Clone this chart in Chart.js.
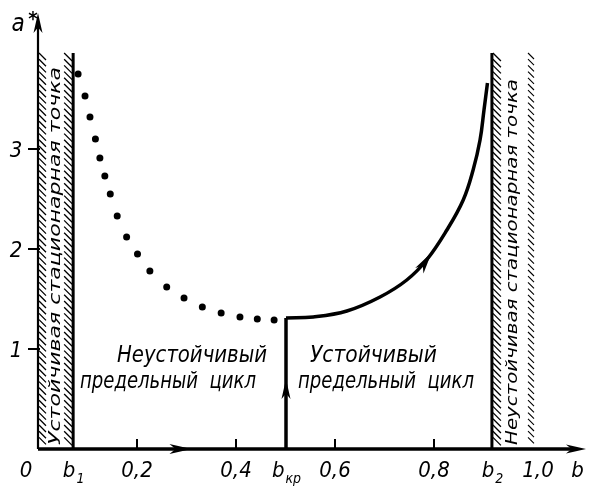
<!DOCTYPE html>
<html>
<head>
<meta charset="utf-8">
<script src="https://cdn.jsdelivr.net/npm/chart.js@4"></script>
<style>
  html, body { margin: 0; padding: 0; background: #fff; }
  canvas { display: block; }
</style>
</head>
<body>
<canvas id="grafico" width="590" height="490"></canvas>
<script>
// Começo dados

const b1 = 0.071;
const bKr = 0.501;
const b2 = 0.917;
const bDashed = 1.0;
const hatchTop = 3.96;

// pontos do ciclo instável (pontilhado)
const unstableB = [0.081, 0.095, 0.105, 0.116, 0.125, 0.135, 0.146, 0.160, 0.179, 0.201, 0.226, 0.260, 0.295, 0.332, 0.370, 0.408, 0.443, 0.477];
const unstableA = [3.75, 3.53, 3.32, 3.10, 2.91, 2.73, 2.55, 2.33, 2.12, 1.95, 1.78, 1.62, 1.51, 1.42, 1.36, 1.32, 1.30, 1.29];

// ciclo estável (linha cheia)
const riseB = [bKr, bKr];
const riseA = [0, 1.31];
const stableB = [0.501, 0.556, 0.624, 0.691, 0.745, 0.785, 0.826, 0.859, 0.879, 0.893, 0.901, 0.908];
const stableA = [1.31, 1.32, 1.38, 1.52, 1.69, 1.89, 2.19, 2.49, 2.79, 3.09, 3.39, 3.66];

// ticks
const xTickMarks = [0.2, 0.4, 0.6, 0.8];
const xLabelPos = [0, b1, 0.2, 0.4, bKr, 0.6, 0.8, b2, 1.0, 1.09];
const xLabelMain = ['0', 'b', '0,2', '0,4', 'b', '0,6', '0,8', 'b', '1,0', 'b'];
const xLabelSub = ['', '1', '', '', 'кр', '', '', '2', '', ''];
const yTickMarks = [1, 2, 3];
const yLabels = ['1', '2', '3'];

// Término dados

const fonte = "'Liberation Sans Narrow', 'DejaVu Sans Condensed', sans-serif";

function seta(ctx, x, y, ang, len, half) {
  ctx.save();
  ctx.translate(x, y);
  ctx.rotate(ang);
  ctx.beginPath();
  ctx.moveTo(0, 0);
  ctx.lineTo(-len, -half);
  ctx.lineTo(-len * 0.72, 0);
  ctx.lineTo(-len, half);
  ctx.closePath();
  ctx.fill();
  ctx.restore();
}

function hachura(ctx, x0, x1, yTop, yBot, lw) {
  ctx.save();
  ctx.lineWidth = lw;
  ctx.beginPath();
  for (let y = yTop; y < yBot - 8; y += 6.2) {
    ctx.moveTo(x0, y);
    ctx.lineTo(x1, y + (x1 - x0) * 1.0);
  }
  ctx.stroke();
  ctx.restore();
}

function textoLargo(ctx, txt, x, y, largura) {
  const w = ctx.measureText(txt).width;
  ctx.save();
  ctx.translate(x, y);
  ctx.scale(largura / w, 1);
  ctx.fillText(txt, 0, 0);
  ctx.restore();
}

const desenho = {
  id: 'desenho',
  beforeDatasetsDraw(chart) {
    const ctx = chart.ctx;
    const xs = chart.scales.x, ys = chart.scales.y;
    const x0 = xs.getPixelForValue(0);
    const y0 = ys.getPixelForValue(0);
    const yT = ys.getPixelForValue(hatchTop);
    ctx.save();
    ctx.strokeStyle = '#000';
    ctx.fillStyle = '#000';

    // zona esquerda
    const pb1 = xs.getPixelForValue(b1);
    hachura(ctx, x0 + 1, x0 + 8, yT, y0, 1.3);
    hachura(ctx, pb1 - 9, pb1 - 1, yT, y0, 1.3);
    ctx.lineWidth = 3;
    ctx.beginPath();
    ctx.moveTo(pb1, yT);
    ctx.lineTo(pb1, y0);
    ctx.stroke();

    // zona direita
    const pb2 = xs.getPixelForValue(b2);
    const pd = xs.getPixelForValue(bDashed);
    ctx.beginPath();
    ctx.moveTo(pb2, yT);
    ctx.lineTo(pb2, y0);
    ctx.stroke();
    hachura(ctx, pb2 + 1, pb2 + 9, yT, y0, 1.3);
    hachura(ctx, pd - 5, pd + 1, yT, y0, 1.1);

    // textos verticais
    ctx.font = 'italic 15px ' + fonte;
    ctx.textBaseline = 'middle';
    ctx.save();
    ctx.translate((x0 + pb1) / 2 + 1, y0 - 4);
    ctx.rotate(-Math.PI / 2);
    textoLargo(ctx, 'Устойчивая стационарная точка', 0, 0, 378);
    ctx.restore();
    ctx.save();
    ctx.translate(pb2 + 21, y0 - 4);
    ctx.rotate(-Math.PI / 2);
    textoLargo(ctx, 'Неустойчивая стационарная точка', 0, 0, 366);
    ctx.restore();

    // eixos
    const xEnd = chart.chartArea.right;
    ctx.lineWidth = 3.5;
    ctx.beginPath();
    ctx.moveTo(x0, y0);
    ctx.lineTo(xEnd - 6, y0);
    ctx.stroke();
    seta(ctx, xEnd + 3, y0, 0, 20, 4.5);
    ctx.lineWidth = 2.2;
    ctx.beginPath();
    ctx.moveTo(x0, y0);
    ctx.lineTo(x0, chart.chartArea.top + 8);
    ctx.stroke();
    seta(ctx, x0, chart.chartArea.top - 2, -Math.PI / 2, 20, 4.5);

    // seta no eixo b
    seta(ctx, xs.getPixelForValue(0.31), y0, 0, 22, 5);

    // marcas
    ctx.lineWidth = 2;
    ctx.beginPath();
    xTickMarks.forEach(v => {
      const p = xs.getPixelForValue(v);
      ctx.moveTo(p, y0);
      ctx.lineTo(p, y0 - 10);
    });
    yTickMarks.forEach(v => {
      const p = ys.getPixelForValue(v);
      ctx.moveTo(x0 - 10, p);
      ctx.lineTo(x0 + 2, p);
    });
    ctx.stroke();

    // rótulos
    ctx.textBaseline = 'alphabetic';
    xLabelPos.forEach((v, i) => {
      let p = xs.getPixelForValue(v);
      if (i === 0) p -= 12;
      if (xLabelMain[i] === '1,0') p += 5;
      ctx.font = 'italic 22px ' + fonte;
      const wMain = ctx.measureText(xLabelMain[i]).width;
      ctx.font = 'italic 14px ' + fonte;
      const wSub = ctx.measureText(xLabelSub[i]).width;
      const start = p - (wMain + wSub) / 2;
      ctx.font = 'italic 22px ' + fonte;
      ctx.fillText(xLabelMain[i], start, y0 + 28);
      if (xLabelSub[i]) {
        ctx.font = 'italic 14px ' + fonte;
        ctx.fillText(xLabelSub[i], start + wMain + 1, y0 + 34);
      }
    });
    ctx.font = 'italic 22px ' + fonte;
    ctx.textAlign = 'center';
    yTickMarks.forEach((v, i) => {
      ctx.fillText(yLabels[i], x0 - 22, ys.getPixelForValue(v) + 8);
    });
    ctx.font = 'italic 24px ' + fonte;
    ctx.fillText('a', x0 - 20, chart.chartArea.top + 16);
    ctx.font = 'bold 20px ' + fonte;
    ctx.fillText('*', x0 - 5, chart.chartArea.top + 10);

    // textos das regiões
    ctx.textAlign = 'left';
    ctx.font = 'italic 23px ' + fonte;
    textoLargo(ctx, 'Неустойчивый', 117, 362, 150);
    textoLargo(ctx, 'предельный  цикл', 80, 388, 176);
    textoLargo(ctx, 'Устойчивый', 310, 362, 127);
    textoLargo(ctx, 'предельный  цикл', 298, 388, 176);
    ctx.restore();
  },
  afterDatasetsDraw(chart) {
    const ctx = chart.ctx;
    const xs = chart.scales.x, ys = chart.scales.y;
    ctx.save();
    ctx.fillStyle = '#000';
    // seta na subida
    seta(ctx, xs.getPixelForValue(bKr), ys.getPixelForValue(0.7), -Math.PI / 2, 20, 4.5);
    // seta na curva
    const ax = xs.getPixelForValue(stableB[5]), ay = ys.getPixelForValue(stableA[5]);
    const bx = xs.getPixelForValue(stableB[6]), by = ys.getPixelForValue(stableA[6]);
    seta(ctx, ax + (bx - ax) * 0.25, ay + (by - ay) * 0.25, Math.atan2(by - ay, bx - ax), 22, 5);
    ctx.restore();
  }
};

const dados = {
  datasets: [
    {
      label: 'instável',
      data: unstableB.map((b, i) => ({ x: b, y: unstableA[i] })),
      showLine: false,
      pointRadius: 3.5,
      pointBackgroundColor: '#000',
      pointBorderWidth: 0
    },
    {
      label: 'subida',
      data: riseB.map((b, i) => ({ x: b, y: riseA[i] })),
      showLine: true,
      borderColor: '#000',
      borderWidth: 3.5,
      pointRadius: 0
    },
    {
      label: 'estável',
      data: stableB.map((b, i) => ({ x: b, y: stableA[i] })),
      showLine: true,
      borderColor: '#000',
      borderWidth: 3.5,
      tension: 0.4,
      pointRadius: 0
    }
  ]
};

const config = {
  type: 'scatter',
  data: dados,
  options: {
    responsive: false,
    animation: false,
    layout: { padding: { left: 38, right: 7, top: 15, bottom: 41 } },
    scales: {
      x: { type: 'linear', min: 0, max: 1.101, display: false },
      y: { type: 'linear', min: 0, max: 4.34, display: false }
    },
    plugins: { legend: { display: false }, tooltip: { enabled: false } }
  },
  plugins: [desenho]
};

const grafico = new Chart(document.getElementById('grafico'), config);
</script>
</body>
</html>
